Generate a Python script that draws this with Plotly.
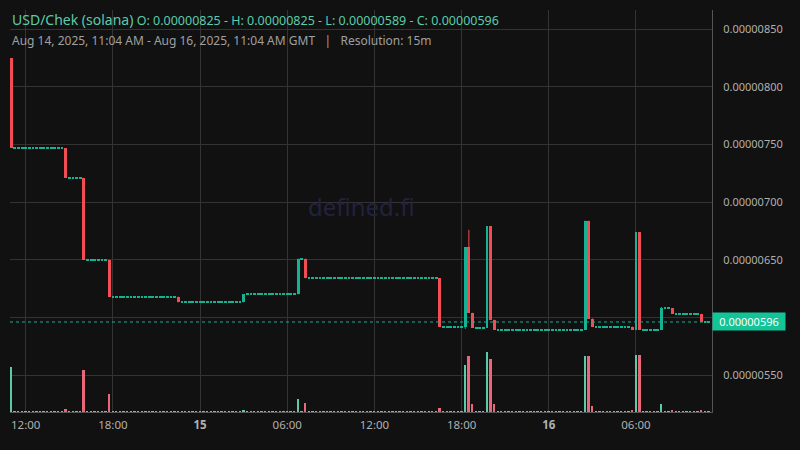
import plotly.graph_objects as go
import pandas as pd

# ---------------- data (prices in units of 1e-8 USD) ----------------
SCALE = 1e-8
start_time = "2025-08-14 11:00"
first_open = 825

closes = [
    747, 747, 747, 747, 747, 747, 747, 747, 747, 747, 747, 747, 747, 747, 747, 721,
    721, 721, 721, 721, 650, 650, 650, 650, 650, 650, 650, 618, 618, 618, 618, 618,
    618, 618, 618, 618, 618, 618, 618, 618, 618, 618, 618, 618, 618, 618, 613, 613,
    613, 613, 613, 613, 613, 613, 613, 613, 613, 613, 613, 613, 613, 613, 613, 613,
    620, 620, 620, 620, 620, 620, 620, 620, 620, 620, 620, 620, 620, 620, 620, 651,
    651, 634, 634, 634, 634, 634, 634, 634, 634, 634, 634, 634, 634, 634, 634, 634,
    634, 634, 634, 634, 634, 634, 634, 634, 634, 634, 634, 634, 634, 634, 634, 634,
    634, 634, 634, 634, 634, 634, 592, 592, 592, 592, 592, 592, 592, 661, 604, 591,
    591, 591, 591, 679, 598, 589, 589, 589, 589, 589, 589, 589, 589, 589, 589, 589,
    589, 589, 589, 589, 589, 589, 589, 589, 589, 589, 589, 589, 589, 589, 684, 599,
    592, 592, 592, 592, 592, 592, 592, 592, 592, 592, 592, 589, 674, 589, 589, 589,
    589, 589, 589, 608, 608, 608, 603, 603, 603, 603, 603, 603, 603, 603, 596, 596,
    596,
]
# wick extremes that stick out of the bodies (candle index -> price)
wick_highs = {126: 676, 179: 609}
wick_lows = {125: 590}

# volume events: (candle index, volume, buy side?)
volume_events = [
    (0, 45, True), (15, 3, False), (20, 42, False), (27, 18, False),
    (64, 2, True), (79, 13, True), (81, 9, False), (118, 4, False),
    (125, 47, True), (126, 56, False), (127, 8, False), (131, 60, True),
    (132, 53, False), (133, 8, False), (158, 56, True), (159, 56, False),
    (160, 6, False), (171, 2, False), (172, 57, True), (173, 57, False),
    (179, 8, True), (182, 2, False), (190, 2, False),
]

x_tick_times = ["2025-08-14 12:00", "2025-08-14 18:00", "2025-08-15 00:00",
                "2025-08-15 06:00", "2025-08-15 12:00", "2025-08-15 18:00",
                "2025-08-16 00:00", "2025-08-16 06:00"]
x_tick_labels = ["12:00", "18:00", "<b>15</b>", "06:00", "12:00", "18:00",
                 "<b>16</b>", "06:00"]
y_tick_values = [550, 600, 650, 700, 750, 800, 850]
last_price = 596

# ---------------- derived ----------------
n = len(closes)
times = pd.date_range(start_time, periods=n, freq="15min")
opens = [first_open] + closes[:-1]
highs = [max(o, c) for o, c in zip(opens, closes)]
lows = [min(o, c) for o, c in zip(opens, closes)]
for k, v in wick_highs.items():
    highs[k] = v
for k, v in wick_lows.items():
    lows[k] = v

UP = "#17b294"
DOWN = "#f24d55"
VUP = "#5ccaa7"
VDOWN = "#e8677a"
BG = "#111111"
GRID = "#333333"

period_ms = 15 * 60 * 1000
min_body = 1.0  # price units, so flat candles show as a thin dash

body_base, body_h, body_col = [], [], []
for o, c in zip(opens, closes):
    h = abs(c - o)
    if h < min_body:
        body_base.append((c - min_body / 2) * SCALE)
        body_h.append(min_body * SCALE)
    else:
        body_base.append(min(o, c) * SCALE)
        body_h.append(h * SCALE)
    body_col.append(UP if c >= o else DOWN)

wx_up, wy_up, wx_dn, wy_dn = [], [], [], []
for t, o, c, hi, lo in zip(times, opens, closes, highs, lows):
    if c >= o:
        wx_up += [t, t, None]
        wy_up += [lo * SCALE, hi * SCALE, None]
    else:
        wx_dn += [t, t, None]
        wy_dn += [lo * SCALE, hi * SCALE, None]

vol = [0.0] * n
vol_col = [VUP] * n
for idx, v, buy in volume_events:
    vol[idx] = v
    vol_col[idx] = VUP if buy else VDOWN
vol_min = 1.0
vol_disp = [max(v, vol_min) for v in vol]
vmax = max(vol)

fig = go.Figure()
fig.add_trace(go.Bar(x=times, y=vol_disp, marker=dict(color=vol_col, line=dict(width=0)),
                     width=period_ms * 0.5, yaxis="y2", hoverinfo="skip", showlegend=False))
fig.add_trace(go.Scatter(x=wx_up, y=wy_up, mode="lines", line=dict(color=UP, width=1),
                         hoverinfo="skip", showlegend=False))
fig.add_trace(go.Scatter(x=wx_dn, y=wy_dn, mode="lines", line=dict(color=DOWN, width=1),
                         hoverinfo="skip", showlegend=False))
fig.add_trace(go.Bar(x=times, y=body_h, base=body_base,
                     marker=dict(color=body_col, line=dict(width=0)),
                     width=period_ms * 0.78, hoverinfo="skip", showlegend=False))

FONT = "Noto Sans, Open Sans, sans-serif"
fig.update_layout(
    width=800, height=450, autosize=False,
    paper_bgcolor=BG, plot_bgcolor=BG,
    margin=dict(l=10, r=88, t=10, b=38),
    barmode="overlay", bargap=0,
    font=dict(family=FONT, color="#b0b0b0", size=11),
    xaxis=dict(type="date", range=["2025-08-14 10:55", "2025-08-16 11:14"],
               tickvals=x_tick_times, ticktext=x_tick_labels,
               showgrid=True, gridcolor=GRID, gridwidth=1, zeroline=False,
               showline=True, linecolor="#555555", linewidth=1, ticks="",
               ticklabelstandoff=2, tickfont=dict(size=11.5, color="#b0b0b0")),
    yaxis=dict(side="right", range=[517.9 * SCALE, 866.7 * SCALE],
               tickvals=[v * SCALE for v in y_tick_values],
               ticktext=["" if v == 600 else f"{v * SCALE:.8f}" for v in y_tick_values],
               showgrid=True, gridcolor=GRID, gridwidth=1, zeroline=False,
               showline=True, linecolor="#555555", linewidth=1, ticks="",
               ticklabelstandoff=8, tickfont=dict(size=11, color="#b0b0b0")),
    yaxis2=dict(overlaying="y", range=[0, vmax * 6.7], visible=False, fixedrange=True),
    shapes=[
        dict(type="rect", xref="paper", yref="paper", x0=0, x1=0.695, y0=0.893, y1=1.0,
             fillcolor=BG, line=dict(width=0), layer="between"),
        dict(type="line", xref="paper", yref="y", x0=0, x1=1,
             y0=last_price * SCALE, y1=last_price * SCALE,
             line=dict(color=UP, width=1, dash="dot")),
    ],
    annotations=[
        dict(xref="paper", yref="paper", x=0, y=0.9776, xanchor="left", yanchor="middle",
             showarrow=False, align="left",
             text=('<span style="font-size:14px">USD/Chek (solana)</span> '
                   f'O: {opens[0] * SCALE:.8f} - H: {max(highs) * SCALE:.8f} - '
                   f'L: {min(lows) * SCALE:.8f} - C: {closes[-1] * SCALE:.8f}'),
             font=dict(family=FONT, size=12.5, color="#5ccbaa")),
        dict(xref="paper", yref="paper", x=0, y=0.9229, xanchor="left", yanchor="middle",
             showarrow=False, align="left",
             text="Aug 14, 2025, 11:04 AM - Aug 16, 2025, 11:04 AM GMT &nbsp; | &nbsp; Resolution: 15m",
             font=dict(family=FONT, size=12, color="#a0a0a0")),
        dict(xref="paper", yref="paper", x=0.501, y=0.51, xanchor="center", yanchor="middle",
             showarrow=False, text="defined.fi",
             font=dict(family=FONT, size=24, color="#23223e")),
        dict(xref="paper", yref="y", x=1, y=last_price * SCALE, xanchor="left",
             yanchor="middle", showarrow=False, text=f"{last_price * SCALE:.8f}",
             bgcolor="#12c496", width=70, height=15, borderpad=1, align="center",
             font=dict(family=FONT, size=11, color="#ffffff")),
    ],
)

fig.write_html("out.html", config={"displayModeBar": False},
               post_script="document.body.style.margin='0';")
